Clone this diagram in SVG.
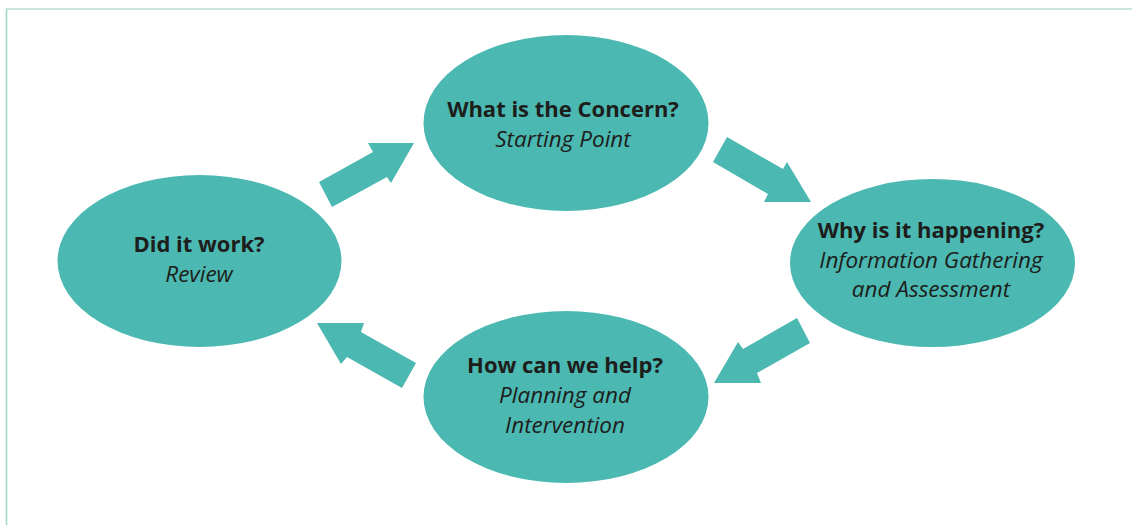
<svg xmlns="http://www.w3.org/2000/svg" width="1132" height="525" viewBox="0 0 1132 525">
<style>
.node{fill:#4bb8b1}
.arrow{fill:#4bb8b1}
.t{font-family:"Open Sans","Noto Sans",sans-serif;font-size:22px;fill:#1d1d1b;text-anchor:middle}
.b{font-weight:700}
.i{font-style:italic;font-size:22.5px}
</style>
<rect width="1132" height="525" fill="#ffffff"/>
<line x1="6" y1="9" x2="1132" y2="9" stroke="#bddcd7" stroke-width="1.6"/>
<line x1="6.5" y1="9" x2="6.5" y2="525" stroke="#a3d8cb" stroke-width="1.6"/>
<g id="connectors">
<polygon class="arrow" points="319,182 373,152 368,143 414,143 391,183 387,177 332,207"/>
<polygon class="arrow" points="727,137 783,169 787,162 811,202 764,202 768,194 713,162"/>
<polygon class="arrow" points="797,318 810,343 757,373 761,383 714,383 738,342 743,349"/>
<polygon class="arrow" points="416,363 402,388 347,357 341,364 317,323 364,323 361,332"/>
</g>
<g id="node-concern">
<ellipse class="node" cx="566" cy="123" rx="142.5" ry="88"/>
<text class="t b" x="563" y="117">What is the Concern?</text>
<text class="t i" x="563" y="147">Starting Point</text>
</g>
<g id="node-why">
<ellipse class="node" cx="932.5" cy="263" rx="142.5" ry="84"/>
<text class="t b" x="931" y="238">Why is it happening?</text>
<text class="t i" x="931" y="268">Information Gathering</text>
<text class="t i" x="931" y="297">and Assessment</text>
</g>
<g id="node-how">
<ellipse class="node" cx="566" cy="397" rx="142.5" ry="86"/>
<text class="t b" x="565" y="373">How can we help?</text>
<text class="t i" x="565" y="403">Planning and</text>
<text class="t i" x="565" y="433">Intervention</text>
</g>
<g id="node-review">
<ellipse class="node" cx="199.5" cy="261" rx="142" ry="86"/>
<text class="t b" x="199" y="252">Did it work?</text>
<text class="t i" x="199" y="282">Review</text>
</g>
</svg>
